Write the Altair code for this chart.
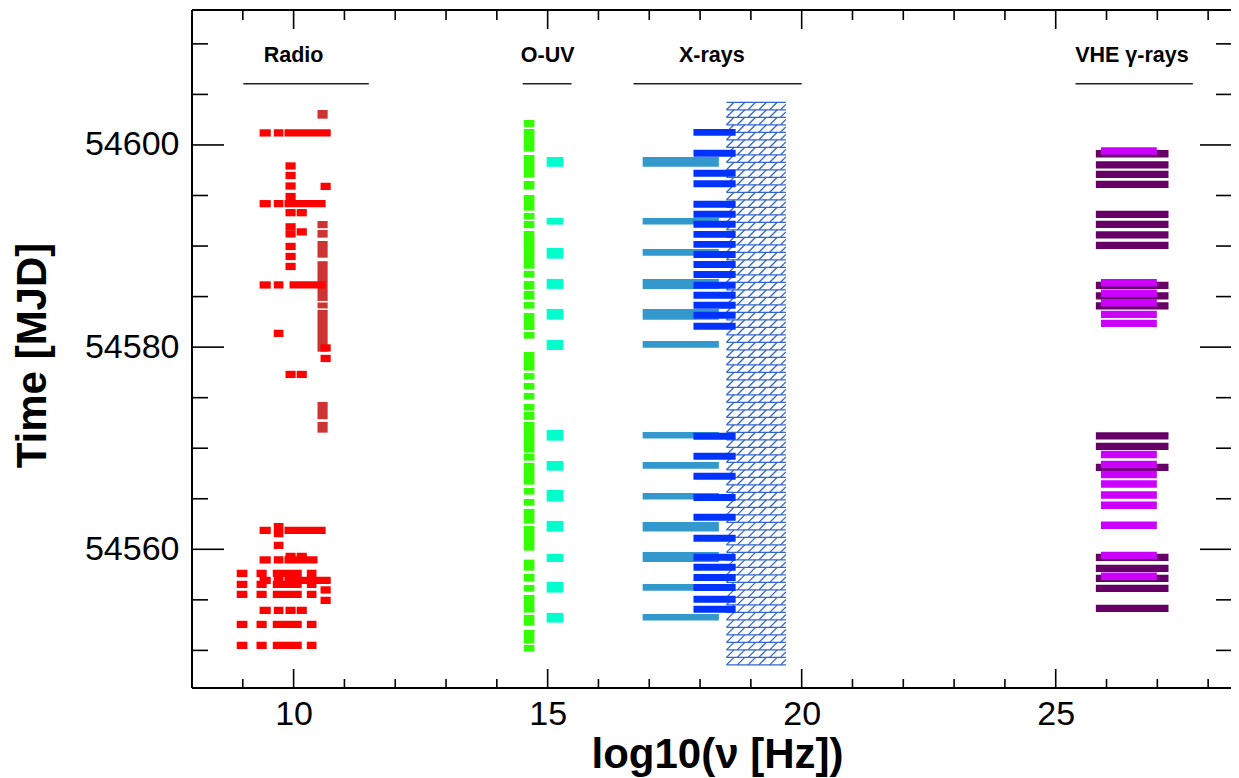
import altair as alt
import pandas as pd
import numpy as np

# ---------------- axes ----------------
X_DOMAIN = [8.0, 28.45]
Y_DOMAIN = [54546.28, 54613.35]
W, H = 1039, 678
x_major = [10, 15, 20, 25]
x_minor = [9, 11, 12, 13, 14, 16, 17, 18, 19, 21, 22, 23, 24, 26, 27, 28]
y_major = [54560, 54580, 54600]
y_minor = [54550, 54555, 54565, 54570, 54575, 54585, 54590, 54595, 54605, 54610]

# ---------------- Radio ----------------
radio_bands = {
    "A": (8.88, 9.09), "B": (9.27, 9.47), "C": (9.33, 9.55), "D": (9.61, 9.80),
    "E": (9.84, 10.04), "F": (10.06, 10.26), "G": (9.82, 10.73), "H": (9.82, 10.63),
    "I": (10.53, 10.73), "J": (9.59, 10.16), "K": (10.26, 10.45), "L": (9.82, 10.47),
    "M": (9.92, 10.63),
}
radio_mjd = [54601.19, 54597.92, 54596.98, 54595.94, 54595.90, 54594.90, 54594.19, 54593.30,
             54591.90, 54591.20, 54591.40, 54589.96, 54588.97, 54587.98, 54586.15, 54581.35,
             54579.92, 54578.88, 54577.30,
             54562.25, 54561.55, 54561.87, 54560.39, 54559.30, 54558.95, 54557.62, 54556.92,
             54556.53, 54555.98, 54555.54, 54554.95, 54553.96, 54552.57, 54550.50]
radio_obs = ["CDG", "E", "E", "E", "I", "E", "CDH", "EF",
             "E", "E", "F", "E", "E", "E", "CDM", "D",
             "I", "I", "EF",
             "D", "D", "CH", "D", "EF", "CDL", "ABJK", "CDG",
             "ABJK", "I", "ABJK", "I", "CDEF", "ABJK", "ABJK"]
radio_half = 0.36

brown_band = (10.47, 10.67)
brown_start = [54602.60, 54591.76, 54590.83, 54588.85, 54584.57, 54583.83, 54579.55, 54572.87, 54571.54]
brown_end = [54603.46, 54592.48, 54591.59, 54590.50, 54588.50, 54584.42, 54583.68, 54574.58, 54572.60]

# ---------------- O-UV ----------------
green_band = (14.53, 14.74)
green_start = [54601.78, 54599.34, 54596.77, 54595.58, 54593.50, 54592.61, 54591.76, 54587.76,
               54586.87, 54585.69, 54584.70, 54583.81, 54581.70, 54580.84, 54577.68, 54576.79,
               54575.80, 54574.81, 54573.72, 54572.80, 54569.56, 54568.77, 54566.40, 54565.41,
               54564.32, 54562.54, 54559.87, 54557.89, 54556.81, 54555.82, 54553.74, 54552.45,
               54550.67, 54549.88]
green_end = [54602.47, 54601.58, 54599.01, 54596.44, 54595.05, 54593.27, 54592.48, 54591.49,
             54587.54, 54586.55, 54585.56, 54584.47, 54583.38, 54581.50, 54579.52, 54577.43,
             54576.46, 54575.47, 54574.38, 54573.59, 54572.60, 54569.44, 54568.55, 54566.07,
             54564.98, 54564.00, 54562.31, 54558.98, 54557.57, 54556.48, 54555.49, 54553.51,
             54552.03, 54550.54]

cyan_band = (14.98, 15.31)
cyan_start = [54597.84, 54592.12, 54588.75, 54585.76, 54582.72, 54579.72, 54570.75, 54567.78,
              54564.72, 54561.75, 54558.75, 54555.72, 54552.75]
cyan_end = [54598.81, 54592.78, 54589.81, 54586.75, 54583.78, 54580.71, 54571.81, 54568.74,
            54565.87, 54562.81, 54559.55, 54556.78, 54553.71]

# ---------------- X-rays ----------------
steel_band = (16.87, 18.37)
steel_start = [54597.85, 54592.12, 54589.05, 54585.76, 54582.72, 54579.95, 54570.95, 54567.98,
               54564.92, 54561.75, 54558.75, 54555.91, 54552.95]
steel_end = [54598.81, 54592.78, 54589.71, 54586.75, 54583.78, 54580.61, 54571.61, 54568.64,
             54565.58, 54562.71, 54559.74, 54556.58, 54553.61]

blue_band = (17.87, 18.70)
blue_mjd = [54601.25, 54599.18, 54597.20, 54596.16, 54594.13, 54593.14, 54592.15, 54591.16,
            54590.17, 54589.16, 54588.17, 54587.18, 54586.12, 54585.13, 54584.14, 54583.15,
            54582.06, 54571.18, 54569.21, 54567.23, 54565.12, 54563.17, 54561.09, 54559.21,
            54558.22, 54557.21, 54556.22, 54555.06, 54554.07]
blue_half = 0.34

hatch_band = (18.52, 19.69)
hatch_span = (54548.57, 54604.52)
hatch_row = 0.742    # row spacing of the hatch (days)
hatch_step = 0.2126  # spacing of diagonal strokes (log10 nu)
hatch_slant = 0.148  # horizontal run of a stroke within one row

# ---------------- VHE ----------------
dpurple_band = (25.79, 27.22)
dpurple_mjd = [54599.13, 54598.04, 54597.09, 54596.10, 54593.13, 54592.14, 54591.11, 54590.06,
               54586.11, 54585.07, 54584.08, 54571.22, 54570.18, 54568.10, 54559.20, 54558.11,
               54557.13, 54556.14, 54554.16]
magenta_band = (25.89, 26.99)
magenta_mjd = [54599.41, 54586.36, 54585.32, 54584.38, 54583.24, 54582.35, 54569.38, 54568.39,
               54567.41, 54566.47, 54565.38, 54564.35, 54562.37, 54559.40, 54557.33]
vhe_half = 0.36

# ---------------- band labels ----------------
group_labels = ["Radio", "O-UV", "X-rays", "VHE \u03b3-rays"]
label_x = [10.0, 15.0, 18.23, 26.5]
label_t = 54608.24
line_x1 = [9.01, 14.51, 16.69, 25.39]
line_x2 = [11.48, 15.47, 20.0, 27.70]
line_t = 54606.06

FONT = "Liberation Sans"

xs = alt.Scale(domain=X_DOMAIN, nice=False, zero=False)
ys = alt.Scale(domain=Y_DOMAIN, nice=False, zero=False)

XAXIS = alt.Axis(
    values=x_major, ticks=False, tickSize=0, domain=False, grid=False,
    labelFont=FONT, labelFontSize=34, labelColor="black", labelBaseline="alphabetic",
    labelPadding=36, labelFlush=False, labelOverlap=False,
    title="log10(\u03bd [Hz])", titleFont=FONT, titleFontSize=42, titleFontWeight="bold",
    titleColor="black", titleX=525, titleY=79, titleAlign="center",
    titleBaseline="alphabetic")
YAXIS = alt.Axis(
    values=y_major, format="d", ticks=False, tickSize=0, domain=False, grid=False,
    labelFont=FONT, labelFontSize=34, labelColor="black", labelPadding=13,
    labelFlush=False, labelOverlap=False,
    title="Time [MJD]", titleFont=FONT, titleFontSize=42, titleFontWeight="bold",
    titleColor="black", titleAngle=270, titleX=-147, titleY=345, titleAlign="center",
    titleBaseline="alphabetic")


def X(f):
    return alt.X(f, scale=xs, axis=XAXIS)


def Y(f):
    return alt.Y(f, scale=ys, axis=YAXIS)


def rect_df(band, t1, t2):
    return pd.DataFrame({"x1": band[0], "x2": band[1], "y1": t1, "y2": t2})


def rect_layer(df, color):
    return alt.Chart(df).mark_rect(color=color, strokeWidth=0).encode(
        x=X("x1:Q"), x2="x2:Q", y=Y("y1:Q"), y2="y2:Q")


# radio rows
rows = []
for t, obs in zip(radio_mjd, radio_obs):
    for b in obs:
        lo, hi = radio_bands[b]
        rows.append({"x1": lo, "x2": hi, "y1": t - radio_half, "y2": t + radio_half})
radio_df = pd.DataFrame(rows)

brown_df = rect_df(brown_band, brown_start, brown_end)
green_df = rect_df(green_band, green_start, green_end)
cyan_df = rect_df(cyan_band, cyan_start, cyan_end)
steel_df = rect_df(steel_band, steel_start, steel_end)
blue_df = rect_df(blue_band, [t - blue_half for t in blue_mjd], [t + blue_half for t in blue_mjd])
dp_df = rect_df(dpurple_band, [t - vhe_half for t in dpurple_mjd], [t + vhe_half for t in dpurple_mjd])
mg_df = rect_df(magenta_band, [t - 0.37 for t in magenta_mjd], [t + 0.37 for t in magenta_mjd])

# hatch pattern (fill style of the X-ray band region)
h_rows = []
d_rows = []
t = hatch_span[0]
while t <= hatch_span[1] + 1e-9:
    h_rows.append({"x1": hatch_band[0], "x2": hatch_band[1], "y1": t})
    if t + hatch_row <= hatch_span[1] + 1e-9:
        xv = hatch_band[0]
        while xv < hatch_band[1]:
            xe = min(xv + hatch_slant, hatch_band[1])
            frac = (xe - xv) / hatch_slant
            d_rows.append({"x1": xv, "x2": xe, "y1": t, "y2": t + hatch_row * frac})
            xv += hatch_step
    t += hatch_row
hatch_h = pd.DataFrame(h_rows)
hatch_d = pd.DataFrame(d_rows)
HATCH = "#3366CC"

hatch_h_layer = alt.Chart(hatch_h).mark_rule(color=HATCH, strokeWidth=1.3).encode(
    x=X("x1:Q"), x2="x2:Q", y=Y("y1:Q"))
hatch_d_layer = alt.Chart(hatch_d).mark_rule(color=HATCH, strokeWidth=1.3).encode(
    x=X("x1:Q"), x2="x2:Q", y=Y("y1:Q"), y2="y2:Q")

# frame + inward ticks
one = pd.DataFrame({"k": [0]})
frame = [
    alt.Chart(one).mark_rule(color="black", strokeWidth=2).encode(
        x=alt.value(0), y=alt.value(0), y2=alt.value(H)),
    alt.Chart(one).mark_rule(color="black", strokeWidth=2).encode(
        x=alt.value(0), x2=alt.value(W), y=alt.value(0)),
    alt.Chart(one).mark_rule(color="black", strokeWidth=2).encode(
        x=alt.value(0), x2=alt.value(W), y=alt.value(H)),
]
xmaj = pd.DataFrame({"x1": x_major})
xmin = pd.DataFrame({"x1": x_minor})
ymaj = pd.DataFrame({"y1": y_major})
ymin = pd.DataFrame({"y1": y_minor})


def xtick(df, y0, y1):
    return alt.Chart(df).mark_rule(color="black", strokeWidth=1.6).encode(
        x=X("x1:Q"), y=alt.value(y0), y2=alt.value(y1))


def ytick(df, x0, x1):
    return alt.Chart(df).mark_rule(color="black", strokeWidth=1.6).encode(
        y=Y("y1:Q"), x=alt.value(x0), x2=alt.value(x1))


ticks = [
    xtick(xmaj, 0, 19), xtick(xmin, 0, 10), xtick(xmaj, H, H - 19), xtick(xmin, H, H - 9),
    ytick(ymaj, 0, 32), ytick(ymin, 0, 16), ytick(ymaj, W, W - 31), ytick(ymin, W, W - 15),
]

# band labels
lab_df = pd.DataFrame({"label": group_labels, "x1": label_x, "y1": label_t})
lab_layer = alt.Chart(lab_df).mark_text(
    font=FONT, fontSize=21.5, fontWeight="bold", color="black",
    align="center", baseline="alphabetic").encode(
    x=X("x1:Q"), y=Y("y1:Q"), text="label:N")
line_df = pd.DataFrame({"x1": line_x1, "x2": line_x2, "y1": line_t})
line_layer = alt.Chart(line_df).mark_rule(color="#222222", strokeWidth=1.6).encode(
    x=X("x1:Q"), x2="x2:Q", y=Y("y1:Q"))

layers = [rect_layer(brown_df, "#CC3333"), rect_layer(radio_df, "#FF0000"),
          rect_layer(green_df, "#33FF00"), rect_layer(cyan_df, "#00FFCC"),
          hatch_h_layer, hatch_d_layer,
          rect_layer(steel_df, "#3399CC"), rect_layer(blue_df, "#0033FF"),
          rect_layer(dp_df, "#660066"), rect_layer(mg_df, "#CC00FF"),
          lab_layer, line_layer] + frame + ticks

chart = alt.layer(*layers).properties(
    width=W, height=H,
    padding={"left": 184, "top": 2, "right": 0, "bottom": 90},
    autosize=alt.AutoSizeParams(type="none"),
    background="white",
).configure_view(stroke=None)

chart.save("out.html", embed_options={"renderer": "svg", "actions": False})
